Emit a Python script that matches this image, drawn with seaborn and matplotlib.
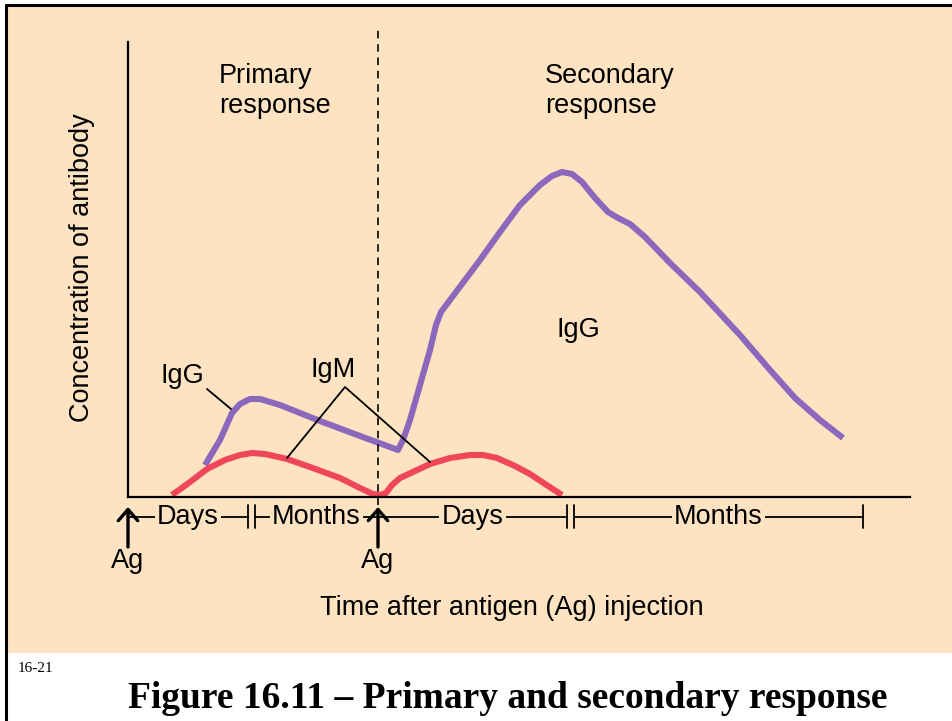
import pandas as pd
import seaborn as sns
import matplotlib.pyplot as plt
from matplotlib.patches import Rectangle
from matplotlib.lines import Line2D

# --- Data (time and concentration in arbitrary units) ---
igg_time = [77, 92, 104, 112, 122, 132, 152, 192, 232, 262, 270, 275, 282, 292, 302,
            308, 313, 322, 337, 352, 372, 392, 412, 424, 434, 444, 454, 467, 480, 490,
            502, 517, 542, 572, 612, 642, 667, 692, 715]
igg_conc = [32, 57, 84, 93, 98, 98, 92, 76, 61, 50, 47, 57, 77, 112, 147,
            172, 185, 197, 217, 237, 265, 292, 312, 321, 325, 323, 315, 299, 285, 279,
            273, 260, 234, 205, 162, 127, 99, 77, 59]

igm_time = [44, 62, 79, 97, 112, 124, 137, 159, 182, 212, 232, 245, 252, 258, 264,
            272, 287, 302, 322, 342, 355, 369, 387, 402, 417, 434]
igm_conc = [2, 15, 28, 37, 42, 44, 43, 38, 30, 19, 9, 3, 2, 4, 12,
            19, 26, 33, 39, 42, 42, 39, 31, 23, 13, 2]

ag_times = [0, 250]
period_labels = ["Days", "Months", "Days", "Months"]
period_starts = [0, 127, 250, 446]
period_ends = [120, 250, 439, 735]

BEIGE = "#FDE3C1"
PURPLE = "#8C68BD"
RED = "#F0465A"

df = pd.concat([
    pd.DataFrame({"time": igg_time, "conc": igg_conc, "antibody": "IgG"}),
    pd.DataFrame({"time": igm_time, "conc": igm_conc, "antibody": "IgM"}),
])

sns.set_theme(style="white")
plt.rcParams["font.family"] = ["Liberation Sans", "DejaVu Sans"]
plt.rcParams["text.color"] = "black"
plt.rcParams["axes.labelcolor"] = "black"

fig = plt.figure(figsize=(9.52, 7.21), dpi=100)
fig.patch.set_facecolor("white")
# beige panel and black frame
fig.add_artist(Rectangle((7 / 952, 68 / 721), 945 / 952, 646 / 721, transform=fig.transFigure,
                         facecolor=BEIGE, edgecolor="none", zorder=-10))
fig.add_artist(Line2D([6 / 952, 6 / 952], [0, 716 / 721], color="black", lw=2.2))
fig.add_artist(Line2D([6 / 952, 1], [716 / 721, 716 / 721], color="black", lw=2.2))

ax = fig.add_axes([128 / 952, 224 / 721, 782 / 952, 455 / 721])
ax.set_facecolor("none")

sns.lineplot(data=df, x="time", y="conc", hue="antibody", palette={"IgG": PURPLE, "IgM": RED},
             linewidth=4.4, legend=False, ax=ax, solid_capstyle="butt", solid_joinstyle="round")

ax.set_xlim(0, 782)
ax.set_ylim(0, 455)
ax.set_xticks([])
ax.set_yticks([])
sns.despine(ax=ax)
for s in ["left", "bottom"]:
    ax.spines[s].set_linewidth(1.6)
    ax.spines[s].set_color("black")

# boundary between primary and secondary response
ax.plot([ag_times[1], ag_times[1]], [-8, 470], ls=(0, (4.5, 3.5)), color="black", lw=1.2, clip_on=False)

fs = 19.5
ax.text(91, 406, "Primary\nresponse", fontsize=fs, ha="left", va="center", linespacing=1.22)
ax.text(417, 406, "Secondary\nresponse", fontsize=fs, ha="left", va="center", linespacing=1.22)
ax.text(450, 167, "IgG", fontsize=fs, ha="center", va="center")
ax.text(54, 121, "IgG", fontsize=fs, ha="center", va="center")
ax.text(205, 127, "IgM", fontsize=fs, ha="center", va="center")

# pointer lines
ax.plot([79, 103], [108, 88], color="black", lw=1.3, clip_on=False)
ax.plot([159, 217, 302], [39, 110, 35], color="black", lw=1.3, clip_on=False)

# time periods under the axis
for lab, a, b in zip(period_labels, period_starts, period_ends):
    ax.plot([a, b], [-20, -20], color="black", lw=1.3, clip_on=False)
    ax.text((a + b) / 2, -20, lab, fontsize=fs, ha="center", va="center",
            bbox=dict(facecolor=BEIGE, edgecolor="none", pad=1.5))
for t in [120, 127, 439, 446, 735]:
    ax.plot([t, t], [-8, -31], color="black", lw=1.3, clip_on=False)

# antigen injections
for t in ag_times:
    ax.annotate("", xy=(t, -10), xytext=(t, -50), annotation_clip=False,
                arrowprops=dict(arrowstyle="->,head_length=0.4,head_width=0.35",
                                mutation_scale=20, color="black", lw=2.4,
                                shrinkA=0, shrinkB=0))
    ax.text(t, -64, "Ag", fontsize=fs, ha="center", va="center")

ax.set_ylabel("Concentration of antibody", fontsize=fs)
ax.yaxis.set_label_coords(-33 / 782, 229.5 / 455)
ax.set_xlabel("Time after antigen (Ag) injection", fontsize=fs)
ax.xaxis.set_label_coords(384 / 782, -98 / 455)

fig.text(18 / 952, 1 - 668 / 721, "16-21", fontsize=11, family="Liberation Serif",
         ha="left", va="center")
fig.text(508 / 952, 1 - 698 / 721, "Figure 16.11 \u2013 Primary and secondary response",
         fontsize=27, family="Liberation Serif", fontweight="bold", ha="center", va="center")

fig.savefig("out.png", dpi=100)
